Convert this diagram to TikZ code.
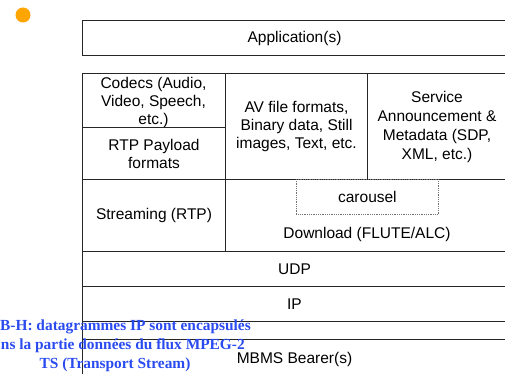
\documentclass[tikz,border=0pt]{standalone}
\usepackage{fontspec}
\setmainfont{Liberation Sans}
\newfontfamily\blueserif{Liberation Serif}
\definecolor{dotorange}{HTML}{FFA500}
\definecolor{noteblue}{HTML}{2A4BEF}
\begin{document}
\begin{tikzpicture}[x=1pt,y=-1pt,
  box/.style={draw=black!85, line width=1pt, rectangle, inner sep=0pt, anchor=north west,
    font=\fontsize{15.5}{18}\selectfont, align=center},
  txt/.style={inner sep=0pt, font=\fontsize{15.5}{18}\selectfont, align=center},
  note/.style={inner sep=0pt, text=noteblue, font=\blueserif\bfseries\fontsize{15.4}{18}\selectfont},
  carouselbox/.style={draw=black!55, densely dotted, line width=0.8pt, rectangle, inner sep=0pt, anchor=north west}]
\useasboundingbox (0,0) rectangle (505,374);
\clip (0,0) rectangle (505,374);
% orange bullet
\node[circle, fill=dotorange, minimum size=15pt, inner sep=0pt] (bullet) at (23,15) {};
% application
\node[box, minimum width=424pt, minimum height=35pt] (app) at (82,20) {Application(s)};
% upper block
\node[box, minimum width=143pt, minimum height=54pt] (codecs) at (82,73) {};
\node[txt, anchor=base] (codecst) at (153.5,125) {Codecs (Audio,\\Video, Speech,\\etc.)};
\node[box, minimum width=143pt, minimum height=52pt] (rtppl) at (82,127) {RTP Payload\\formats};
\node[box, minimum width=142pt, minimum height=106pt] (av) at (225,73) {AV file formats,\\Binary data, Still\\images, Text, etc.};
\node[box, minimum width=139pt, minimum height=106pt, font=\fontsize{15.5}{19}\selectfont] (sa) at (367,73) {Service\\Announcement \&\\Metadata (SDP,\\XML, etc.)};
% transport
\node[box, minimum width=143pt, minimum height=72pt] (stream) at (82,179) {Streaming (RTP)};
\node[box, minimum width=281pt, minimum height=72pt] (down) at (225,179) {};
\node[carouselbox, minimum width=142pt, minimum height=35pt, font=\fontsize{15.5}{18}\selectfont] (car) at (296,179) {carousel};
\node[txt, anchor=base] (downt) at (367,238.5) {Download (FLUTE/ALC)};
% lower layers
\node[box, minimum width=424pt, minimum height=35pt] (udp) at (82,251) {UDP};
\node[box, minimum width=424pt, minimum height=35pt] (ip) at (82,286) {IP};
\node[box, minimum width=424pt, minimum height=40pt] (mbms) at (82,338.5) {MBMS Bearer(s)};
\draw[draw=black!85, line width=1pt] (ip.south west) -- (mbms.north west);
% blue note
\node[note, anchor=base east] (n1) at (251,330.7) {B-H: datagrammes IP sont encapsulés};
\node[note, anchor=base east] (n2) at (245,349.5) {ns la partie données du flux MPEG-2};
\node[note, anchor=base] (n3) at (115,368) {TS (Transport Stream)};
\end{tikzpicture}
\end{document}
